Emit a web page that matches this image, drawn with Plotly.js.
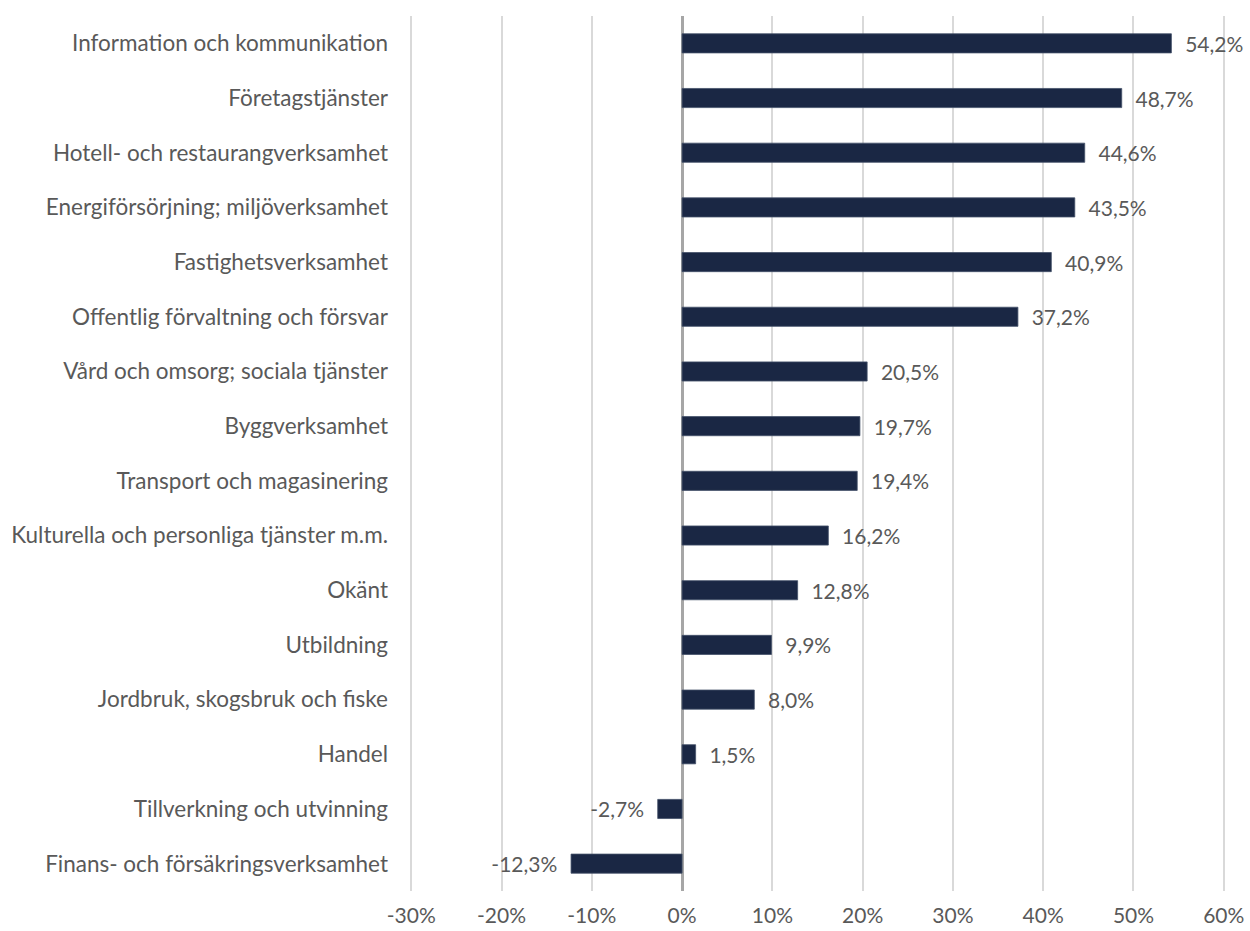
<!DOCTYPE html>
<html>
<head>
<meta charset="utf-8">
<script src="https://cdn.plot.ly/plotly-3.0.1.min.js"></script>
<style>html,body{margin:0;padding:0;background:#fff;}#chart{width:1250px;height:931px;}</style>
</head>
<body>
<div id="chart"></div>
<script>
const categories = [
  "Information och kommunikation",
  "Företagstjänster",
  "Hotell- och restaurangverksamhet",
  "Energiförsörjning; miljöverksamhet",
  "Fastighetsverksamhet",
  "Offentlig förvaltning och försvar",
  "Vård och omsorg; sociala tjänster",
  "Byggverksamhet",
  "Transport och magasinering",
  "Kulturella och personliga tjänster m.m.",
  "Okänt",
  "Utbildning",
  "Jordbruk, skogsbruk och fiske",
  "Handel",
  "Tillverkning och utvinning",
  "Finans- och försäkringsverksamhet"
];
const values = [54.2, 48.7, 44.6, 43.5, 40.9, 37.2, 20.5, 19.7, 19.4, 16.2, 12.8, 9.9, 8.0, 1.5, -2.7, -12.3];
const xTickVals = [-30, -20, -10, 0, 10, 20, 30, 40, 50, 60];
const xTickLabels = ["-30%", "-20%", "-10%", "0%", "10%", "20%", "30%", "40%", "50%", "60%"];

const pad = "\u00a0\u00a0";
const labels = values.map(v => {
  const s = v.toFixed(1).replace('.', ',') + '%';
  return v >= 0 ? pad + s : s + pad;
});

const font = "Lato, Open Sans, sans-serif";
const fsize = 21;
const trace = {
  type: 'bar',
  orientation: 'h',
  x: values,
  y: categories,
  text: labels,
  textposition: 'outside',
  constraintext: 'none',
  cliponaxis: false,
  textfont: {family: font, size: fsize, color: '#595959'},
  outsidetextfont: {family: font, size: fsize, color: '#595959'},
  marker: {color: '#1a2744', line: {color: '#44506a', width: 0.8}},
  hoverinfo: 'skip'
};

const layout = {
  width: 1250,
  height: 931,
  margin: {l: 409, r: 24, t: 16, b: 40},
  paper_bgcolor: '#ffffff',
  plot_bgcolor: '#ffffff',
  showlegend: false,
  bargap: 0.65,
  font: {family: font, size: fsize, color: '#595959'},
  xaxis: {
    range: [-30.25, 60.25],
    tickvals: xTickVals,
    ticktext: xTickLabels,
    showgrid: true,
    gridcolor: '#d9d9d9',
    gridwidth: 2,
    zeroline: true,
    zerolinecolor: '#a6a6a6',
    zerolinewidth: 3,
    showline: false,
    ticks: '',
    ticklabelstandoff: 10,
    tickfont: {family: font, size: fsize, color: '#595959'},
    fixedrange: true
  },
  yaxis: {
    autorange: 'reversed',
    showgrid: false,
    zeroline: false,
    showline: false,
    ticks: '',
    ticklabelstandoff: 20,
    tickfont: {family: font, size: 22.5, color: '#595959'},
    fixedrange: true
  }
};

Plotly.newPlot('chart', [trace], layout, {displayModeBar: false, staticPlot: true});
</script>
</body>
</html>
